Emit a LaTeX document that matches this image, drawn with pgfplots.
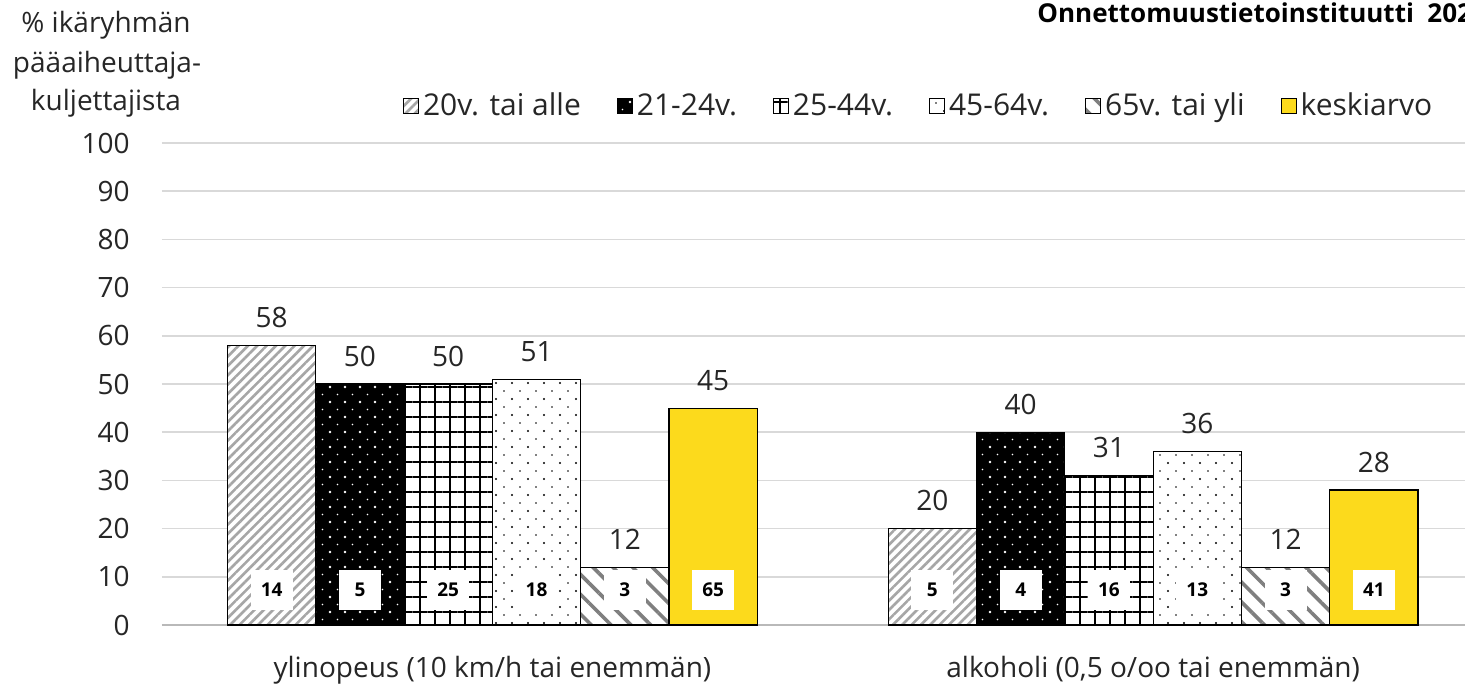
\documentclass[border=0pt]{standalone}
\usepackage{fontspec}
\setmainfont{Open Sans}
\usepackage{pgfplots}
\usepackage{pgfplotstable}
\pgfplotsset{compat=1.18}
\usetikzlibrary{patterns.meta}

\definecolor{keltainen}{HTML}{FCDA1C}
\definecolor{ruudukko}{HTML}{D9D9D9}
\definecolor{teksti}{HTML}{262626}
\definecolor{vaalea}{HTML}{A6A6A6}
\definecolor{tumma}{HTML}{7F7F7F}

% x = ryhmä, y = osuus %, sis = luku palkin sisällä
\pgfplotstableread{
x y sis
0 58 14
1 20 5
}\alle
\pgfplotstableread{
x y sis
0 50 5
1 40 4
}\nuoret
\pgfplotstableread{
x y sis
0 50 25
1 31 16
}\keski
\pgfplotstableread{
x y sis
0 51 18
1 36 13
}\vanhemmat
\pgfplotstableread{
x y sis
0 12 3
1 12 3
}\yli
\pgfplotstableread{
x y sis
0 45 65
1 28 41
}\ka

\newcommand\isofontti{\fontsize{14}{16}\selectfont}

\begin{document}
\begin{tikzpicture}
\useasboundingbox (0,0) rectangle (732.5pt,-343.5pt);
\clip (0,0) rectangle (732.5pt,-343.5pt);

\node[anchor=base, text=teksti, font=\isofontti] at (53pt,-16pt) {\% ikäryhmän};
\node[anchor=base, text=teksti, font=\isofontti] at (53.5pt,-36pt) {pääaiheuttaja-};
\node[anchor=base, text=teksti, font=\isofontti] at (53pt,-55pt) {kuljettajista};
\node[anchor=base west, inner sep=0pt, font=\bfseries\fontsize{13}{15}\selectfont] at (518.5pt,-11pt) {Onnettomuustietoinstituutti\ \ 2023};

\begin{axis}[
    at={(81pt,-312.5pt)}, anchor=south west,
    scale only axis, width=651.5pt, height=241pt,
    xmin=-0.5, xmax=1.472, ymin=0, ymax=100,
    ybar, bar width=44.15pt,
    axis x line=bottom, axis y line=left,
    x axis line style={-, draw=gray!55, line width=1pt},
    y axis line style={draw=none},
    major tick length=0pt,
    xtick={0,1},
    xticklabels={{ylinopeus (10 km/h tai enemmän)},{alkoholi (0,5 o/oo tai enemmän)}},
    ytick={0,10,...,100},
    ymajorgrids, grid style={ruudukko, line width=0.75pt},
    tick label style={font=\isofontti, text=teksti},
    /pgf/number format/assume math mode=true,
    yticklabel style={inner sep=0pt, xshift=-16pt},
    xticklabel style={inner sep=0pt, anchor=base, yshift=-26pt},
    legend columns=6,
    legend style={at={(0.185,1.0768)}, anchor=west, draw=none, fill=none,
        inner sep=0pt, outer sep=0pt, font=\fontsize{15}{17}\selectfont, text=teksti,
        /tikz/every even column/.append style={column sep=16pt},
        nodes={inner sep=2pt}},
    legend image code/.code={\draw[#1, draw=black, line width=0.5pt] (0pt,-3.75pt) rectangle (7.5pt,3.75pt);},
    ylab/.style={nodes near coords, point meta=y,
        every node near coord/.append style={font=\isofontti, text=teksti, inner sep=0pt, yshift=8.5pt,
            fill=none, draw=none}},
    sisa/.style={draw=none, fill=none, forget plot, nodes near coords, point meta=explicit symbolic,
        every node near coord/.append style={font=\bfseries\fontsize{9.5}{11}\selectfont, text=black,
            fill=white, draw=none, inner sep=0pt, minimum width=21pt, minimum height=20pt, yshift=7.5pt}},
]
\addplot[draw=black, line width=0.6pt, bar shift=-110.375pt, preaction={fill=white},
    pattern={Lines[angle=45, distance=3.3pt, line width=1.3pt]}, pattern color=vaalea]
    table[x=x, y=y] {\alle};
\addlegendentry{20v. tai alle}
\addplot[draw=black, line width=0.6pt, bar shift=-66.225pt, preaction={fill=black},
    pattern={Dots[distance=7.5pt, radius=0.7pt]}, pattern color=white,
    postaction={pattern={Dots[distance=7.5pt, radius=0.4pt, xshift=3.75pt, yshift=3.75pt]}, pattern color=white}]
    table[x=x, y=y] {\nuoret};
\addlegendentry{21-24v.}
\addplot[draw=black, line width=0.6pt, bar shift=-22.075pt, preaction={fill=white},
    pattern={Hatch[angle=0, distance=7.5pt, line width=1pt]}, pattern color=black]
    table[x=x, y=y] {\keski};
\addlegendentry{25-44v.}
\addplot[draw=black, line width=0.6pt, bar shift=22.075pt, preaction={fill=white},
    pattern={Dots[distance=8pt, radius=0.6pt]}, pattern color=black,
    postaction={pattern={Dots[distance=8pt, radius=0.4pt, xshift=4pt, yshift=4pt]}, pattern color=black}]
    table[x=x, y=y] {\vanhemmat};
\addlegendentry{45-64v.}
\addplot[draw=black, line width=0.6pt, bar shift=66.225pt, preaction={fill=white},
    pattern={Lines[angle=-45, distance=7pt, line width=1.8pt]}, pattern color=tumma]
    table[x=x, y=y] {\yli};
\addlegendentry{65v. tai yli}
\addplot[draw=black, line width=0.6pt, bar shift=110.375pt, fill=keltainen]
    table[x=x, y=y] {\ka};
\addlegendentry{keskiarvo}

% luvut palkkien päällä
\addplot[draw=none, fill=none, forget plot, ylab, bar shift=-110.375pt] table[x=x, y=y] {\alle};
\addplot[draw=none, fill=none, forget plot, ylab, bar shift=-66.225pt] table[x=x, y=y] {\nuoret};
\addplot[draw=none, fill=none, forget plot, ylab, bar shift=-22.075pt] table[x=x, y=y] {\keski};
\addplot[draw=none, fill=none, forget plot, ylab, bar shift=22.075pt] table[x=x, y=y] {\vanhemmat};
\addplot[draw=none, fill=none, forget plot, ylab, bar shift=66.225pt] table[x=x, y=y] {\yli};
\addplot[draw=none, fill=none, forget plot, ylab, bar shift=110.375pt] table[x=x, y=y] {\ka};

% luvut palkkien sisällä
\addplot[sisa, bar shift=-110.375pt] table[x=x, y expr=0, meta=sis] {\alle};
\addplot[sisa, bar shift=-66.225pt] table[x=x, y expr=0, meta=sis] {\nuoret};
\addplot[sisa, bar shift=-22.075pt] table[x=x, y expr=0, meta=sis] {\keski};
\addplot[sisa, bar shift=22.075pt] table[x=x, y expr=0, meta=sis] {\vanhemmat};
\addplot[sisa, bar shift=66.225pt] table[x=x, y expr=0, meta=sis] {\yli};
\addplot[sisa, bar shift=110.375pt] table[x=x, y expr=0, meta=sis] {\ka};
\end{axis}
\end{tikzpicture}
\end{document}
